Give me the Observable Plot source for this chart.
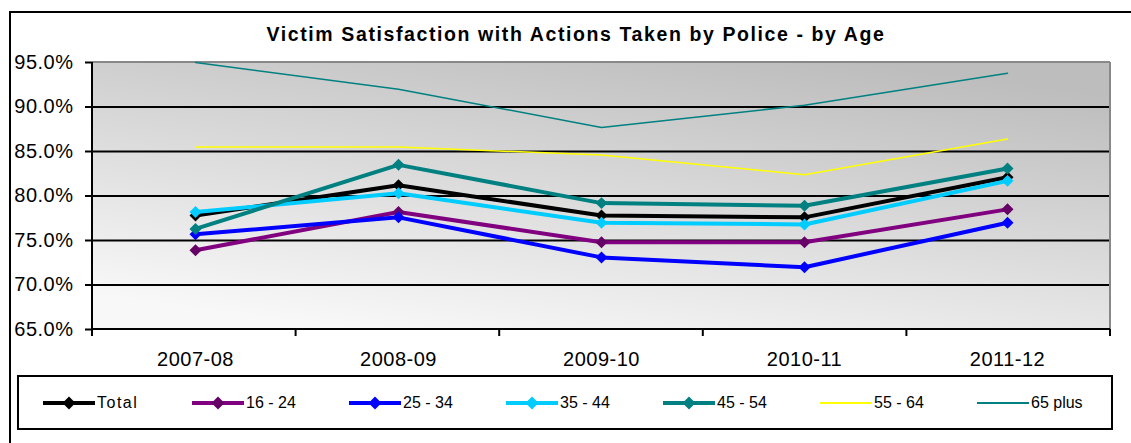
<!DOCTYPE html>
<html><head><meta charset="utf-8">
<script src="https://cdn.jsdelivr.net/npm/d3@7"></script>
<script src="https://cdn.jsdelivr.net/npm/@observablehq/plot@0.6"></script>
<style>
html,body{margin:0;padding:0;background:#fff;overflow:hidden;}
#wrap{position:relative;width:1131px;height:443px;font-family:"Liberation Sans",Arial,sans-serif;color:#000;overflow:hidden;}
#outer{position:absolute;left:9px;top:11px;width:1140px;height:440px;border:2px solid #000;box-sizing:border-box;}
#title{position:absolute;left:0;width:1152px;top:25px;text-align:center;font-weight:bold;font-size:19.5px;line-height:19.5px;letter-spacing:1.6px;white-space:nowrap;}
#chart{position:absolute;left:0;top:0;}
#chart g[aria-label="y-axis tick label"] text,#chart g[aria-label="x-axis tick label"] text{letter-spacing:0.5px;}
#legend{position:absolute;left:17px;top:375px;width:1096px;height:55px;border:2px solid #000;box-sizing:border-box;display:flex;align-items:center;padding-left:24px;gap:50px;background:#fff;}
.item{display:flex;align-items:center;font-size:16px;}
.item span{margin-left:2px;min-width:53px;}
.item.first span{min-width:45px;letter-spacing:1.5px;}
</style>
</head><body>
<div id="wrap">
  <div id="outer"></div>
  <div id="title">Victim Satisfaction with Actions Taken by Police - by Age</div>
  <div id="chart"></div>
  <div id="legend"></div>
</div>
<script>
const categories = ["2007-08", "2008-09", "2009-10", "2010-11", "2011-12"];
const seriesNames = ["Total", "16 - 24", "25 - 34", "35 - 44", "45 - 54", "55 - 64", "65 plus"];
const total    = [77.8, 81.2, 77.8, 77.6, 82.1];
const age16_24 = [73.9, 78.2, 74.8, 74.8, 78.5];
const age25_34 = [75.7, 77.6, 73.1, 72.0, 77.0];
const age35_44 = [78.2, 80.3, 77.0, 76.8, 81.7];
const age45_54 = [76.3, 83.5, 79.2, 78.9, 83.1];
const age55_64 = [85.5, 85.5, 84.6, 82.4, 86.4];
const age65plus = [95.0, 92.0, 87.7, 90.2, 93.8];
const yTicks = [65, 70, 75, 80, 85, 90, 95];
const gridTicks = [70, 75, 80, 85, 90];

const seriesValues = [total, age16_24, age25_34, age35_44, age45_54, age55_64, age65plus];
const lineColors = ["#000000", "#800080", "#0000FF", "#00CCFF", "#008080", "#FFFF00", "#008080"];
const markerColors = ["#000000", "#660066", "#0000FF", "#00CCFF", "#008080", null, null];
const lineWidths = [4, 4, 4, 4, 4, 1.5, 1.5];

const series = seriesNames.map((name, s) => ({
  name,
  rows: categories.map((c, i) => ({cat: c, value: seriesValues[s][i]})),
  color: lineColors[s], marker: markerColors[s], width: lineWidths[s]
}));

function background(index, scales, values, dims) {
  const x0 = dims.marginLeft, x1 = dims.width - dims.marginRight;
  const y0 = dims.marginTop, y1 = dims.height - dims.marginBottom;
  const g = d3.create("svg:g");
  const grad = g.append("defs").append("linearGradient").attr("id", "plotbg")
    .attr("x1", 0.25).attr("y1", 1).attr("x2", 0.75).attr("y2", 0);
  grad.append("stop").attr("offset", 0).attr("stop-color", "#f8f8f8");
  grad.append("stop").attr("offset", 1).attr("stop-color", "#bdbdbd");
  g.append("rect").attr("x", x0).attr("y", y0).attr("width", x1 - x0).attr("height", y1 - y0)
    .attr("fill", "url(#plotbg)");
  return g.node();
}

function frameLines(index, scales, values, dims) {
  const x0 = dims.marginLeft, x1 = dims.width - dims.marginRight;
  const y0 = dims.marginTop, y1 = dims.height - dims.marginBottom;
  const g = d3.create("svg:g");
  g.append("line").attr("x1", x0).attr("x2", x1).attr("y1", y0).attr("y2", y0).attr("stroke", "#888").attr("stroke-width", 2);
  g.append("line").attr("x1", x1).attr("x2", x1).attr("y1", y0).attr("y2", y1).attr("stroke", "#888").attr("stroke-width", 2);
  g.append("line").attr("x1", x0).attr("x2", x0).attr("y1", y0).attr("y2", y1 + 7).attr("stroke", "#000").attr("stroke-width", 2);
  g.append("line").attr("x1", x0).attr("x2", x1).attr("y1", y1).attr("y2", y1).attr("stroke", "#000").attr("stroke-width", 2);
  const step = (x1 - x0) / categories.length;
  for (let i = 1; i <= categories.length; i++) {
    const xx = x0 + i * step;
    g.append("line").attr("x1", xx).attr("x2", xx).attr("y1", y1).attr("y2", y1 + 7).attr("stroke", "#000").attr("stroke-width", 2);
  }
  return g.node();
}

const seriesMarks = [];
for (const s of series) {
  seriesMarks.push(Plot.line(s.rows, {x: "cat", y: "value", stroke: s.color, strokeWidth: s.width, strokeLinejoin: "round"}));
  if (s.marker) seriesMarks.push(Plot.dot(s.rows, {x: "cat", y: "value", symbol: "diamond2", r: 5.4, fill: s.marker, stroke: "none"}));
}

const chart = Plot.plot({
  width: 1131, height: 375,
  marginLeft: 92, marginRight: 21, marginTop: 62, marginBottom: 46,
  style: {fontFamily: "'Liberation Sans', Arial, sans-serif", background: "transparent", color: "#000", overflow: "visible"},
  x: {type: "point", domain: categories, padding: 0.5, axis: null},
  y: {domain: [65, 95], axis: null},
  marks: [
    background,
    Plot.ruleY(gridTicks, {stroke: "#000", strokeWidth: 2}),
    frameLines,
    ...seriesMarks,
    Plot.axisY(yTicks, {label: null, tickSize: 7, tickPadding: 12, strokeWidth: 2, tickFormat: d => d.toFixed(1) + "%", fontSize: 20}),
    Plot.axisX({label: null, tickSize: 0, tickPadding: 22, fontSize: 20})
  ]
});
document.getElementById("chart").appendChild(chart);

const legend = d3.select("#legend");
series.forEach((s, k) => {
  const item = legend.append("div").attr("class", k === 0 ? "item first" : "item");
  const svg = item.append("svg").attr("width", 52).attr("height", 14);
  svg.append("line").attr("x1", 0).attr("x2", 52).attr("y1", 7).attr("y2", 7)
    .attr("stroke", s.color).attr("stroke-width", s.marker ? 4 : 2);
  if (s.marker) svg.append("path").attr("d", "M26,0.5L32.5,7L26,13.5L19.5,7Z").attr("fill", s.marker);
  item.append("span").text(s.name);
});
</script>
</body></html>
